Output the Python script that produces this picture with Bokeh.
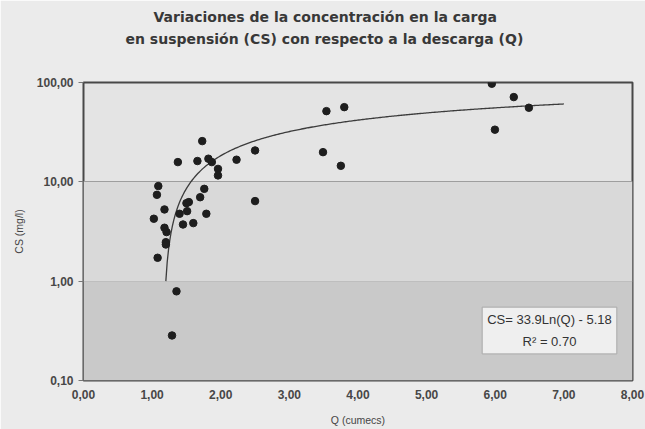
import numpy as np
from bokeh.plotting import figure
from bokeh.models import Range1d, FixedTicker, Label, BoxAnnotation, ColumnDataSource, Title
from bokeh.embed import file_html
from bokeh.resources import INLINE

# ---------------- data ----------------
title_lines = ["Variaciones de la concentración en la carga",
               "en suspensión (CS) con respecto a la descarga (Q)"]

q_values = [1.73, 1.375, 1.66, 1.82, 1.87, 1.96, 1.96, 2.23, 2.50, 2.50,
            1.09, 1.07, 1.76, 1.70, 1.535, 1.50, 1.18, 1.51, 1.40, 1.025,
            1.79, 1.45, 1.60, 1.18, 1.21, 1.20, 1.20, 1.08, 1.355, 1.29,
            5.95, 6.27, 6.49, 5.995, 3.54, 3.80, 3.49, 3.75]
cs_values = [25.7, 15.8, 16.2, 17.1, 15.8, 13.5, 11.6, 16.7, 20.7, 6.4,
             9.06, 7.4, 8.5, 7.0, 6.25, 6.1, 5.27, 5.07, 4.77, 4.25,
             4.77, 3.72, 3.84, 3.45, 3.12, 2.47, 2.34, 1.72, 0.79, 0.284,
             97.2, 71.3, 55.7, 33.5, 51.5, 56.5, 19.9, 14.5]

trend_a = 33.9
trend_b = -5.18
trend_q_start = 1.2
trend_q_end = 7.0
equation_text = "CS= 33.9Ln(Q) - 5.18\nR\u00b2 = 0.70"

x_ticks = [0, 1, 2, 3, 4, 5, 6, 7, 8]
x_tick_labels = ["0,00", "1,00", "2,00", "3,00", "4,00", "5,00", "6,00", "7,00", "8,00"]
y_ticks = [0.1, 1, 10, 100]
y_tick_labels = ["0,10", "1,00", "10,00", "100,00"]

x_title = "Q (cumecs)"
y_title = "CS (mg/l)"

FONT = "Liberation Sans"
TITLE_FONT = "DejaVu Sans"

# ---------------- figure ----------------
p = figure(width=645, height=429, output_backend="svg", toolbar_location=None, title=None,
           x_range=Range1d(0, 8), y_range=Range1d(0.1, 100), y_axis_type="log",
           min_border_left=83, min_border_right=13, min_border_top=82, min_border_bottom=49,
           background_fill_color="#e4e4e4", border_fill_color="#ebebeb")

p.outline_line_color = "#484848"
p.outline_line_width = 2

# shaded background bands (scan tone)
p.add_layout(BoxAnnotation(bottom=1, top=10, fill_color="#d9d9d9", fill_alpha=1,
                           line_color=None, level="underlay"))
p.add_layout(BoxAnnotation(bottom=0.1, top=1, fill_color="#c9c9c9", fill_alpha=1,
                           line_color=None, level="underlay"))

# axes
p.xaxis.ticker = FixedTicker(ticks=x_ticks, minor_ticks=[])
p.xaxis.major_label_overrides = dict(zip(x_ticks, x_tick_labels))
p.yaxis.ticker = FixedTicker(ticks=y_ticks, minor_ticks=[])
p.yaxis.major_label_overrides = dict(zip(y_ticks, y_tick_labels))

for ax in (p.xaxis, p.yaxis):
    ax.axis_line_color = None
    ax.minor_tick_line_color = None
    ax.major_label_text_font = FONT
    ax.major_label_text_font_style = "bold"
    ax.major_label_text_font_size = "12px"
    ax.major_label_text_color = "#474747"
    ax.axis_label_text_font = FONT
    ax.axis_label_text_font_style = "normal"
    ax.axis_label_text_font_size = "10.5px"
    ax.axis_label_text_color = "#454545"

p.xaxis.major_tick_line_color = None
p.xaxis.major_tick_out = 0
p.xaxis.major_tick_in = 0
p.xaxis.major_label_standoff = 9
p.xaxis.axis_label = x_title
p.xaxis.axis_label_standoff = 12

p.yaxis.major_tick_line_color = "#777777"
p.yaxis.major_tick_out = 5
p.yaxis.major_tick_in = 0
p.yaxis.major_label_standoff = 5
p.yaxis.axis_label = y_title
p.yaxis.axis_label_standoff = 9

p.xgrid.grid_line_color = None
p.ygrid.ticker = FixedTicker(ticks=y_ticks, minor_ticks=[])
p.ygrid.grid_line_color = "#8a8a8a"
p.ygrid.grid_line_width = 1

# trend line from the displayed regression equation
trend_q = np.linspace(trend_q_start, trend_q_end, 300)
trend_cs = trend_a * np.log(trend_q) + trend_b
p.line(trend_q, trend_cs, line_color="#3c3c3c", line_width=1.3)

# data points
src = ColumnDataSource(dict(q=q_values, cs=cs_values))
p.scatter("q", "cs", source=src, size=7.5, fill_color="#1e1e1e", line_color="#1e1e1e")

# equation box
p.add_layout(Label(x=466, y=50, x_units="screen", y_units="screen", text=equation_text,
                   text_align="center", text_baseline="middle", text_font=FONT,
                   text_font_size="13px", text_color="#333333", text_line_height=1.45,
                   background_fill_color="#efefef", background_fill_alpha=1,
                   border_line_color="#a8a8a8", border_line_width=1, padding=5))

# two-line title (stacked above the frame: nearest first)
p.add_layout(Title(text=" ", text_font_size="10px", standoff=21), "above")
p.add_layout(Title(text=title_lines[1], align="left", offset=42, text_font=TITLE_FONT,
                   text_font_style="bold", text_font_size="14px", text_color="#383838",
                   standoff=4), "above")
p.add_layout(Title(text=title_lines[0], align="left", offset=70, text_font=TITLE_FONT,
                   text_font_style="bold", text_font_size="14px", text_color="#383838",
                   standoff=4), "above")

open("out.html", "w").write(file_html(p, INLINE))
